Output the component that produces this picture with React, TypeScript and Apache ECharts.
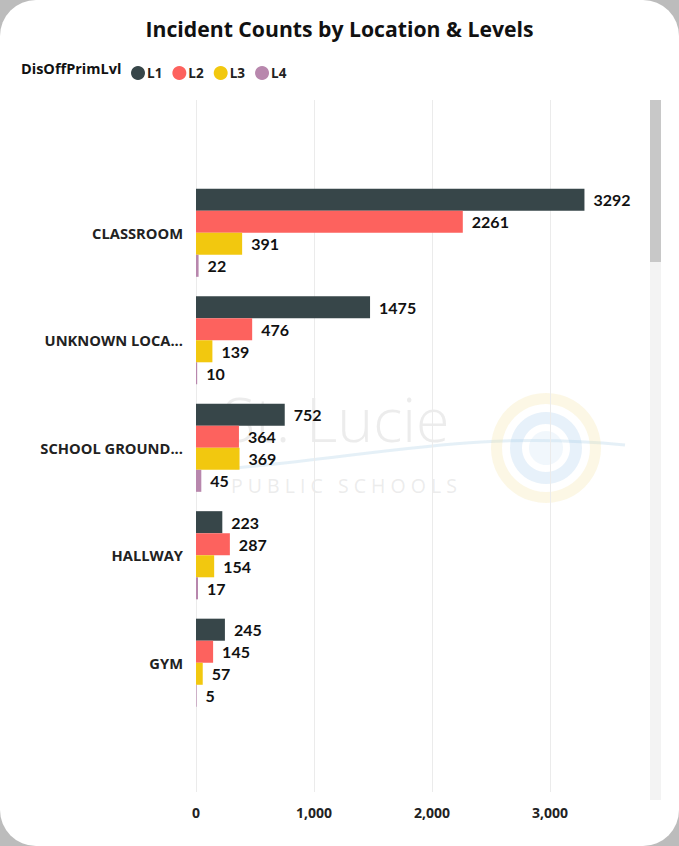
import React, { useEffect, useRef } from "react";
import * as echarts from "echarts";

const categories = ["CLASSROOM", "UNKNOWN LOCA...", "SCHOOL GROUND...", "HALLWAY", "GYM"];
const levels = ["L1", "L2", "L3", "L4"];
const l1Values = [3292, 1475, 752, 223, 245];
const l2Values = [2261, 476, 364, 287, 145];
const l3Values = [391, 139, 369, 154, 57];
const l4Values = [22, 10, 45, 17, 5];
const levelColors = ["#374649", "#FD625E", "#F2C80F", "#B887AD"];
const xTicks = [0, 1000, 2000, 3000];

export default function App() {
  const ref = useRef<HTMLDivElement>(null);
  useEffect(() => {
    if (!ref.current) return;
    const chart = echarts.init(ref.current, null, { renderer: "svg" });
    const seriesValues = [l1Values, l2Values, l3Values, l4Values];
    const font = "'Open Sans', sans-serif";
    const valueFont = "Lato, sans-serif";
    const xMax = 3600;
    const option: any = {
      animation: false,
      backgroundColor: "transparent",
      title: {
        text: "Incident Counts by Location & Levels",
        left: "center",
        top: 13,
        textStyle: { fontFamily: font, fontSize: 21.2, fontWeight: "bold", color: "#111" },
      },
      legend: {
        data: levels,
        left: 126,
        top: 61,
        icon: "circle",
        itemWidth: 14,
        itemHeight: 14,
        itemGap: 10,
        textStyle: { fontFamily: font, fontSize: 13.5, fontWeight: "bold", color: "#222", padding: [0, 0, 0, -3] },
      },
      graphic: [
        { type: "text", left: 21, top: 61, z: 10, style: { text: "DisOffPrimLvl", fontFamily: font, fontSize: 14.5, fontWeight: "bold", fill: "#111" } },
        // watermark
        { type: "text", x: 222, y: 388, z: 0, silent: true, style: { text: "St. Lucie", fontFamily: "'Open Sans', sans-serif", fontWeight: 300, fontSize: 61, fill: "rgba(200,200,200,0.35)" } },
        { type: "text", x: 231, y: 475, z: 0, silent: true, style: { text: "P U B L I C   S C H O O L S", fontFamily: "'Open Sans', sans-serif", fontSize: 19.5, fill: "rgba(200,200,200,0.35)" } },
        { type: "bezierCurve", z: 0, silent: true, shape: { x1: 235, y1: 468, cpx1: 380, cpy1: 455, cpx2: 480, cpy2: 430, x2: 625, y2: 445 }, style: { stroke: "rgba(170,205,230,0.3)", lineWidth: 3, fill: null } },
        { type: "ring", z: 0, silent: true, shape: { cx: 546, cy: 448, r: 55, r0: 44 }, style: { fill: "rgba(245,225,150,0.25)" } },
        { type: "ring", z: 0, silent: true, shape: { cx: 546, cy: 448, r: 36, r0: 24 }, style: { fill: "rgba(160,200,235,0.25)" } },
        { type: "circle", z: 0, silent: true, shape: { cx: 546, cy: 448, r: 17 }, style: { fill: "rgba(200,225,245,0.25)" } },
        // scrollbar
        { type: "rect", z: 10, shape: { x: 650, y: 100, width: 11, height: 700 }, style: { fill: "#f3f3f3" } },
        { type: "rect", z: 11, shape: { x: 650, y: 100, width: 11, height: 162 }, style: { fill: "#c8c8c8" } },
      ],
      grid: [
        { left: 196, width: 424.8, top: 179, height: 537.5, containLabel: false },
        { left: 196, width: 424.8, top: 100, bottom: 54, containLabel: false },
      ],
      xAxis: [
        {
          type: "value",
          gridIndex: 0,
          min: 0,
          max: xMax,
          interval: 1000,
          show: false,
          splitLine: { show: false },
        },
        {
          type: "value",
          gridIndex: 1,
          min: 0,
          max: xMax,
          interval: 1000,
          axisLine: { show: false },
          axisTick: { show: false },
          axisLabel: {
            showMaxLabel: false,
            margin: 13,
            fontFamily: font,
            fontSize: 14,
            fontWeight: "bold",
            color: "#222",
            formatter: (v: number) => (xTicks.indexOf(v) >= 0 ? v.toLocaleString("en-US") : ""),
          },
          splitLine: { show: true, showMaxLine: false, lineStyle: { color: "#ebebeb", width: 1 } },
        },
      ],
      yAxis: [
        {
          type: "category",
          gridIndex: 0,
          data: categories,
          inverse: true,
          axisLine: { show: false },
          axisTick: { show: false },
          axisLabel: { margin: 13, fontFamily: font, fontSize: 14.7, fontWeight: "bold", color: "#222" },
        },
        { type: "value", gridIndex: 1, show: false },
      ],
      series: levels.map((name, i) => ({
        name,
        type: "bar",
        xAxisIndex: 0,
        yAxisIndex: 0,
        data: seriesValues[i],
        barGap: "0%",
        barCategoryGap: "18%",
        z: 5,
        itemStyle: { color: levelColors[i] },
        label: {
          show: true,
          position: "right",
          distance: 9,
          fontFamily: valueFont,
          fontSize: 16,
          fontWeight: "bold",
          color: "#111",
        },
      })),
    };
    chart.setOption(option);
    return () => chart.dispose();
  }, []);
  return (
    <div style={{ position: "fixed", left: 0, top: 0, width: 679, height: 846, background: "#bcbcbc" }}>
      <div style={{ position: "absolute", left: 0, top: 0, width: 679, height: 846, background: "#fff", borderRadius: 36, overflow: "hidden" }}>
        <div ref={ref} style={{ width: 679, height: 846 }} />
      </div>
    </div>
  );
}
